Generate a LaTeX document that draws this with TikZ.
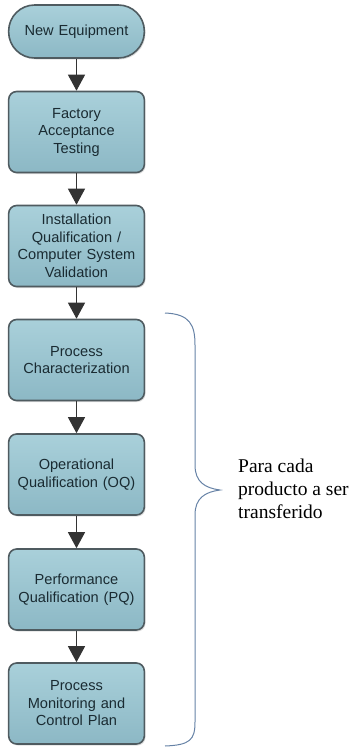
\documentclass[tikz,border=0pt]{standalone}
\usepackage{fontspec}
\setmainfont{Liberation Serif}
\newfontfamily\boxfont{Liberation Sans}
\usepackage{tikz}
\usetikzlibrary{arrows.meta,shadows}

\definecolor{boxtop}{HTML}{A9D0DA}
\definecolor{boxbot}{HTML}{8CB8C5}
\definecolor{boxline}{HTML}{4F5B60}
\definecolor{boxtext}{HTML}{1A2B32}
\definecolor{bracecol}{HTML}{6682A6}

\tikzset{
  stepbox/.style={draw=boxline, line width=1.6pt, rounded corners=8pt,
    top color=boxtop, bottom color=boxbot,
    drop shadow={shadow xshift=1.2pt, shadow yshift=-1.5pt, opacity=.25},
    minimum width=133pt, minimum height=81pt, text width=129pt, align=center,
    text=boxtext, font=\boxfont\fontsize{14.6}{17.5}\selectfont},
  startbox/.style={stepbox, rounded corners=26pt, minimum height=53pt},
  flow/.style={draw=black!80, line width=1.2pt,
    -{Triangle[length=16pt,width=17pt]}}
}

\begin{document}
\begin{tikzpicture}[x=1pt,y=-1pt]
  \useasboundingbox (0,0) rectangle (354,748);
  \node[startbox] (eq) at (76.5,31.5) {New Equipment};
  \node[stepbox] (fat) at (76.5,132) {Factory\\Acceptance\\Testing};
  \node[stepbox] (iq) at (76.5,246) {Installation\\Qualification /\\Computer System\\Validation};
  \node[stepbox] (pc) at (76.5,360) {Process\\Characterization};
  \node[stepbox] (oq) at (76.5,474.5) {Operational\\Qualification (OQ)};
  \node[stepbox] (pq) at (76.5,589.5) {Performance\\Qualification (PQ)};
  \node[stepbox] (pm) at (76.5,703.5) {Process\\Monitoring and\\Control Plan};
  \draw[flow] (eq) -- (fat);
  \draw[flow] (fat) -- (iq);
  \draw[flow] (iq) -- (pc);
  \draw[flow] (pc) -- (oq);
  \draw[flow] (oq) -- (pq);
  \draw[flow] (pq) -- (pm);
  % brace over the per-product steps
  \coordinate (btop) at (165,313);
  \coordinate (btip) at (220,490);
  \coordinate (bbot) at (165,746);
  \draw[bracecol, line width=1pt]
    (btop) .. controls (190,314) and (195,325) .. (195,345) -- (195,465)
    .. controls (195,482) and (205,488) .. (btip)
    .. controls (205,492) and (195,498) .. (195,515) -- (195,722)
    .. controls (195,740) and (190,745) .. (bbot);
  \node[anchor=west, align=left, inner sep=0pt,
    font=\fontsize{19.5}{23}\selectfont] (note) at (238,489)
    {Para cada\\producto a ser\\transferido};
\end{tikzpicture}
\end{document}
